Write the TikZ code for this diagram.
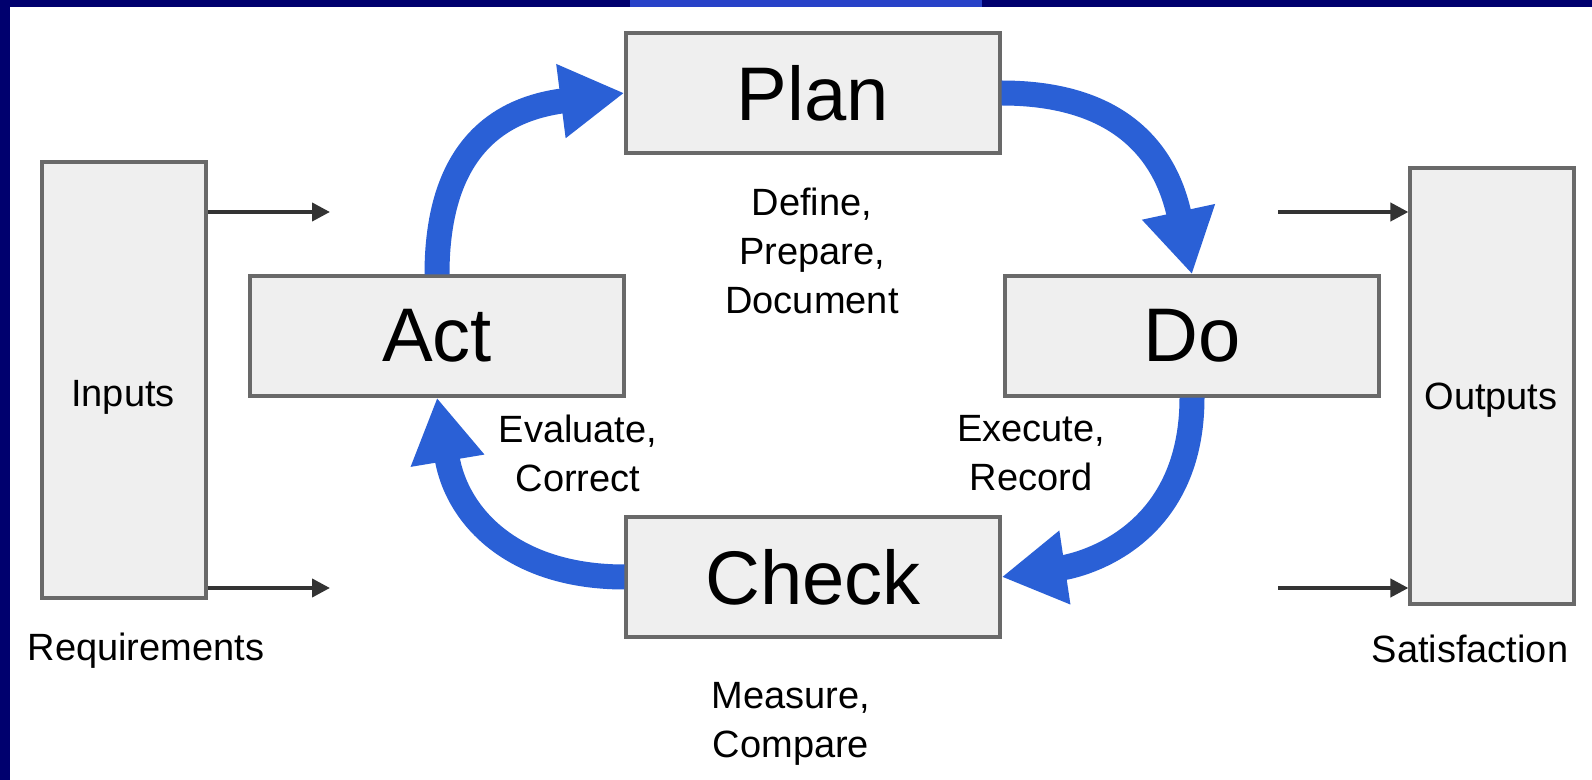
\documentclass[tikz,border=0pt]{standalone}
\usepackage{fontspec}
\setmainfont{Liberation Sans}
\usetikzlibrary{arrows.meta}
\definecolor{framenavy}{RGB}{0,0,110}
\definecolor{barblue}{RGB}{40,66,200}
\definecolor{cycleblue}{RGB}{42,96,214}
\definecolor{boxfill}{RGB}{239,239,239}
\definecolor{boxgray}{RGB}{105,105,105}
\tikzset{
  stagebox/.style={draw=boxgray, fill=boxfill, line width=1.6pt, inner sep=0pt,
    minimum width=187pt, minimum height=60pt, font=\fontsize{38}{40}\selectfont},
  sidebox/.style={draw=boxgray, fill=boxfill, line width=1.6pt, inner sep=0pt,
    minimum width=82pt, minimum height=218pt},
  note/.style={align=center, inner sep=0pt, font=\fontsize{19}{24.5}\selectfont},
  cyclearrow/.style={draw=cycleblue, line width=12.5pt,
    -{Triangle[length=32pt,width=35pt]}},
  feed/.style={draw=black!80, line width=2pt, -{Triangle[length=9pt,width=9pt]}}
}
\begin{document}
\begin{tikzpicture}[x=0.5pt,y=0.5pt,yscale=-1,xscale=1]
\useasboundingbox (0,0) rectangle (1592,780);
% Frame
\fill[white] (0,0) rectangle (1592,780);
\fill[framenavy] (0,0) rectangle (10,780);
\fill[framenavy] (0,0) rectangle (1592,7);
\fill[barblue] (630,0) rectangle (982,7);

% Side boxes
\node[sidebox] (inputs) at (124,380) {};
\node[note] (inputslabel) at (123,397) {Inputs};
\node[sidebox] (outputs) at (1492,386) {};
\node[note] (outputslabel) at (1491,400) {Outputs};
\node[note] (requirements) at (146,651) {Requirements};
\node[note] (satisfaction) at (1470,649) {Satisfaction};

% Stage boxes
\node[stagebox] (plan) at (813,93) {Plan};
\node[stagebox] (act) at (437,336) {Act};
\node[stagebox] (do) at (1192,336) {Do};
\node[stagebox] (check) at (813,577) {Check};

% Text Node
\node[note] (plantext) at (812,251) {Define,\\Prepare,\\Document};
% Text Node
\node[note] (acttext) at (578,453) {Evaluate,\\Correct};
% Text Node
\node[note] (dotext) at (1031,453) {Execute,\\Record};
% Text Node
\node[note] (checktext) at (791,724) {Measure,\\Compare};

% Connection
\draw[cyclearrow] (act.north) .. controls +(0,-140) and +(-110,14) .. (plan.west);
% Connection
\draw[cyclearrow] (plan.east) .. controls +(110,0) and +(-28,-130) .. (do.north);
% Connection
\draw[cyclearrow] (do.south) .. controls +(0,140) and +(80,-12) .. (check.east);
% Connection
\draw[cyclearrow] (check.west) .. controls +(-110,0) and +(20,120) .. (act.south);

% Feeds
\coordinate (in1) at (330,212);
\coordinate (in2) at (330,588);
\coordinate (out1) at (1278,212);
\coordinate (out2) at (1278,588);
\draw[feed] (inputs.east |- in1) -- (in1);
\draw[feed] (inputs.east |- in2) -- (in2);
\draw[feed] (out1) -- (outputs.west |- out1);
\draw[feed] (out2) -- (outputs.west |- out2);

\end{tikzpicture}
\end{document}
